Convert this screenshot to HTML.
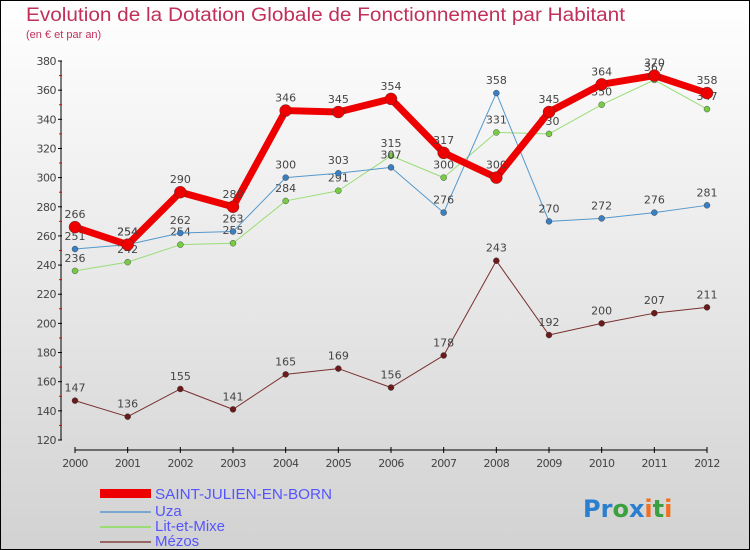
<!DOCTYPE html>
<html><head><meta charset="utf-8"><style>
body{margin:0}
svg{display:block;font-family:"DejaVu Sans","Liberation Sans",sans-serif}
</style></head><body>
<svg id="c" width="750" height="550">
<defs><linearGradient id="bg" x1="0" y1="0" x2="0" y2="1"><stop offset="0" stop-color="#ffffff"/><stop offset="1" stop-color="#d2d2d2"/></linearGradient></defs>
<rect x="0.5" y="0.5" width="749" height="549" fill="url(#bg)" stroke="#000"/>
<text x="26" y="21" font-size="19" fill="#c0305a" font-family="Liberation Sans, sans-serif" textLength="599" lengthAdjust="spacingAndGlyphs">Evolution de la Dotation Globale de Fonctionnement par Habitant</text>
<text x="26" y="38" font-size="11" fill="#c0305a" font-family="Liberation Sans, sans-serif">(en € et par an)</text>
<g id="axes"></g><g id="series"></g>
<g font-family="Liberation Sans, sans-serif">
<rect x="100" y="489" width="51" height="9" fill="#e00"/>
<text x="155" y="499" font-size="15" fill="#5555ff" textLength="177" lengthAdjust="spacingAndGlyphs">SAINT-JULIEN-EN-BORN</text>
<line x1="100" y1="512" x2="151" y2="512" stroke="#7aa7d0" stroke-width="2"/>
<text x="155" y="516" font-size="15" fill="#5555ff">Uza</text>
<line x1="100" y1="527" x2="151" y2="527" stroke="#99dd77" stroke-width="2"/>
<text x="155" y="531" font-size="15" fill="#5555ff">Lit-et-Mixe</text>
<line x1="100" y1="542" x2="151" y2="542" stroke="#996666" stroke-width="2"/>
<text x="155" y="546" font-size="15" fill="#5555ff">Mézos</text>
</g>
<text x="583" y="517" font-size="24" font-weight="bold"><tspan fill="#2a7fd0">Pr</tspan><tspan fill="#3aa040">o</tspan><tspan fill="#2a7fd0">x</tspan><tspan fill="#f07020">i</tspan><tspan fill="#3aa040">t</tspan><tspan fill="#f07020">i</tspan></text>
</svg>
<script>
const years=[2000,2001,2002,2003,2004,2005,2006,2007,2008,2009,2010,2011,2012];
const yTicks=[120,140,160,180,200,220,240,260,280,300,320,340,360,380];
const saint=[266,254,290,280,346,345,354,317,300,345,364,370,358];
const uza=[251,254,262,263,300,303,307,276,358,270,272,276,281];
const lit=[236,242,254,255,284,291,315,300,331,330,350,367,347];
const mezos=[147,136,155,141,165,169,156,178,243,192,200,207,211];
const NS="http://www.w3.org/2000/svg";
const xs=i=>75+i*(707-75)/(years.length-1);
const ys=v=>440-(v-120)*(440-61)/(380-120);
function mk(t,a,p){const e=document.createElementNS(NS,t);for(const k in a)e.setAttribute(k,a[k]);p.appendChild(e);return e;}
const ax=document.getElementById('axes');
mk('line',{x1:61,y1:61,x2:61,y2:440,stroke:'#000'},ax);
mk('line',{x1:75,y1:450,x2:707,y2:450,stroke:'#000'},ax);
yTicks.forEach(v=>{
 mk('line',{x1:58,y1:ys(v),x2:62,y2:ys(v),stroke:'#000'},ax);
 if(v<380)mk('line',{x1:59,y1:ys(v+10),x2:62,y2:ys(v+10),stroke:'#e00'},ax);
 const t=mk('text',{x:56,y:ys(v)+4,'font-size':11,fill:'#444','text-anchor':'end','letter-spacing':'-0.5'},ax);t.textContent=v;
 
 
});
years.forEach((y,i)=>{
 mk('line',{x1:xs(i),y1:447,x2:xs(i),y2:453,stroke:'#000'},ax);
 const t=mk('text',{x:xs(i),y:467,'font-size':11,fill:'#444','text-anchor':'middle','letter-spacing':'-0.6'},ax);t.textContent=y;
 
 
});
const sg=document.getElementById('series');
function draw(vals,name,col,dot,w,r){
 const g=mk('g',{},sg);
 
 
 mk('polyline',{points:vals.map((v,i)=>xs(i)+','+ys(v)).join(' '),fill:'none',stroke:col,'stroke-width':w,'stroke-linejoin':'round'},g);
 vals.forEach((v,i)=>{
  const c=mk('circle',{cx:xs(i),cy:ys(v),r:r,fill:dot,stroke:'#333','stroke-width':0.4},g);
  
  
  const t=mk('text',{x:xs(i),y:ys(v)-9,'font-size':11,fill:'#444','text-anchor':'middle'},g);t.textContent=v;
  
  
 });
}
draw(mezos,'mezos','#7a3030','#6a1a1a',1,3);
draw(lit,'lit-et-mixe','#99dd77','#77cc44',1,3);
draw(uza,'uza','#5599cc','#3a7fc0',1,3);
draw(saint,'saint-julien','#e00','#e00',7,6);
</script>
</body></html>
